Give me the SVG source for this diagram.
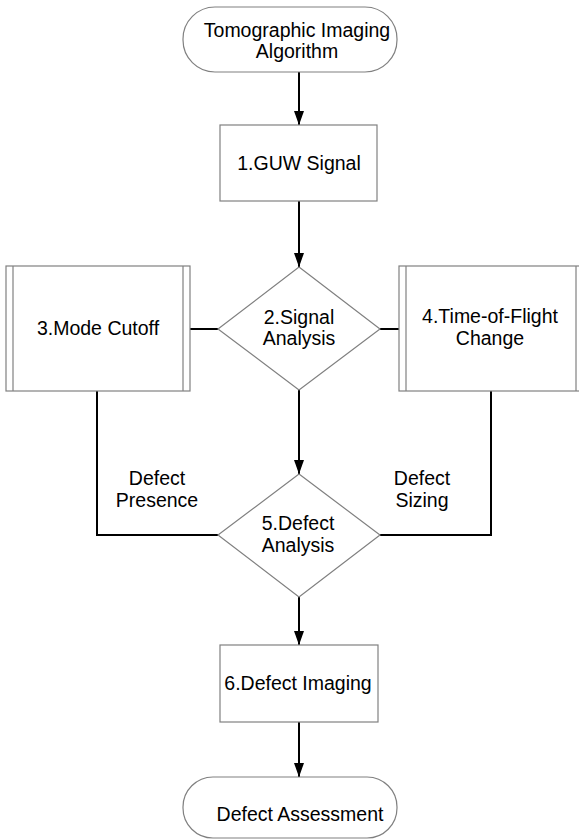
<svg xmlns="http://www.w3.org/2000/svg" width="579" height="840" viewBox="0 0 579 840">
<defs>
<marker id="arr" markerUnits="userSpaceOnUse" markerWidth="14" markerHeight="10" refX="14" refY="5" orient="auto" viewBox="0 0 14 10">
<path d="M0,0 L14,5 L0,10 Z" fill="#000"/>
</marker>
</defs>
<style>
.shape{fill:#fff;stroke:#808080;stroke-width:1.2}
.conn{fill:none;stroke:#000;stroke-width:2}
.arrow{marker-end:url(#arr)}
text{font-family:"Liberation Sans",Arial,sans-serif;font-size:19.5px;fill:#000;text-anchor:middle}
</style>
<rect width="579" height="840" fill="#fff"/>
<g id="connectors">
<path class="conn arrow" d="M299,72 V125"/>
<path class="conn arrow" d="M299,201 V267"/>
<path class="conn" d="M218,329 H190"/>
<path class="conn" d="M380,329 H399"/>
<path class="conn arrow" d="M299,390 V474"/>
<path class="conn" d="M97,391 V535 H218"/>
<path class="conn" d="M491,391 V535 H380"/>
<path class="conn arrow" d="M299,597 V645"/>
<path class="conn arrow" d="M299,722 V777"/>
</g>
<g id="start">
<rect class="shape" x="183" y="7" width="214" height="65" rx="32" ry="32"/>
<text x="297" y="37">Tomographic Imaging</text>
<text x="297" y="58">Algorithm</text>
</g>
<g id="n1">
<rect class="shape" x="220" y="125" width="157" height="76"/>
<text x="299" y="170">1.GUW Signal</text>
</g>
<g id="n2">
<polygon class="shape" points="299,267 380,329 299,390 218,329"/>
<text x="299" y="324">2.Signal</text>
<text x="299" y="345">Analysis</text>
</g>
<g id="n3">
<rect class="shape" x="6" y="266" width="184" height="125"/>
<line class="shape" x1="13" y1="266" x2="13" y2="391"/>
<line class="shape" x1="183" y1="266" x2="183" y2="391"/>
<text x="98" y="335">3.Mode Cutoff</text>
</g>
<g id="n4">
<rect class="shape" x="399" y="266" width="184" height="125"/>
<line class="shape" x1="406" y1="266" x2="406" y2="391"/>
<line class="shape" x1="576" y1="266" x2="576" y2="391"/>
<text x="490" y="323">4.Time-of-Flight</text>
<text x="490" y="345">Change</text>
</g>
<g id="n5">
<polygon class="shape" points="299,474 380,535 299,597 218,535"/>
<text x="298" y="530">5.Defect</text>
<text x="298" y="552">Analysis</text>
</g>
<g id="labels">
<text x="157" y="485">Defect</text>
<text x="157" y="507">Presence</text>
<text x="422" y="485">Defect</text>
<text x="422" y="507">Sizing</text>
</g>
<g id="n6">
<rect class="shape" x="220" y="645" width="158" height="77"/>
<text x="298" y="690">6.Defect Imaging</text>
</g>
<g id="end">
<rect class="shape" x="183" y="777" width="214" height="61" rx="30" ry="30"/>
<text x="300" y="821">Defect Assessment</text>
</g>
</svg>
